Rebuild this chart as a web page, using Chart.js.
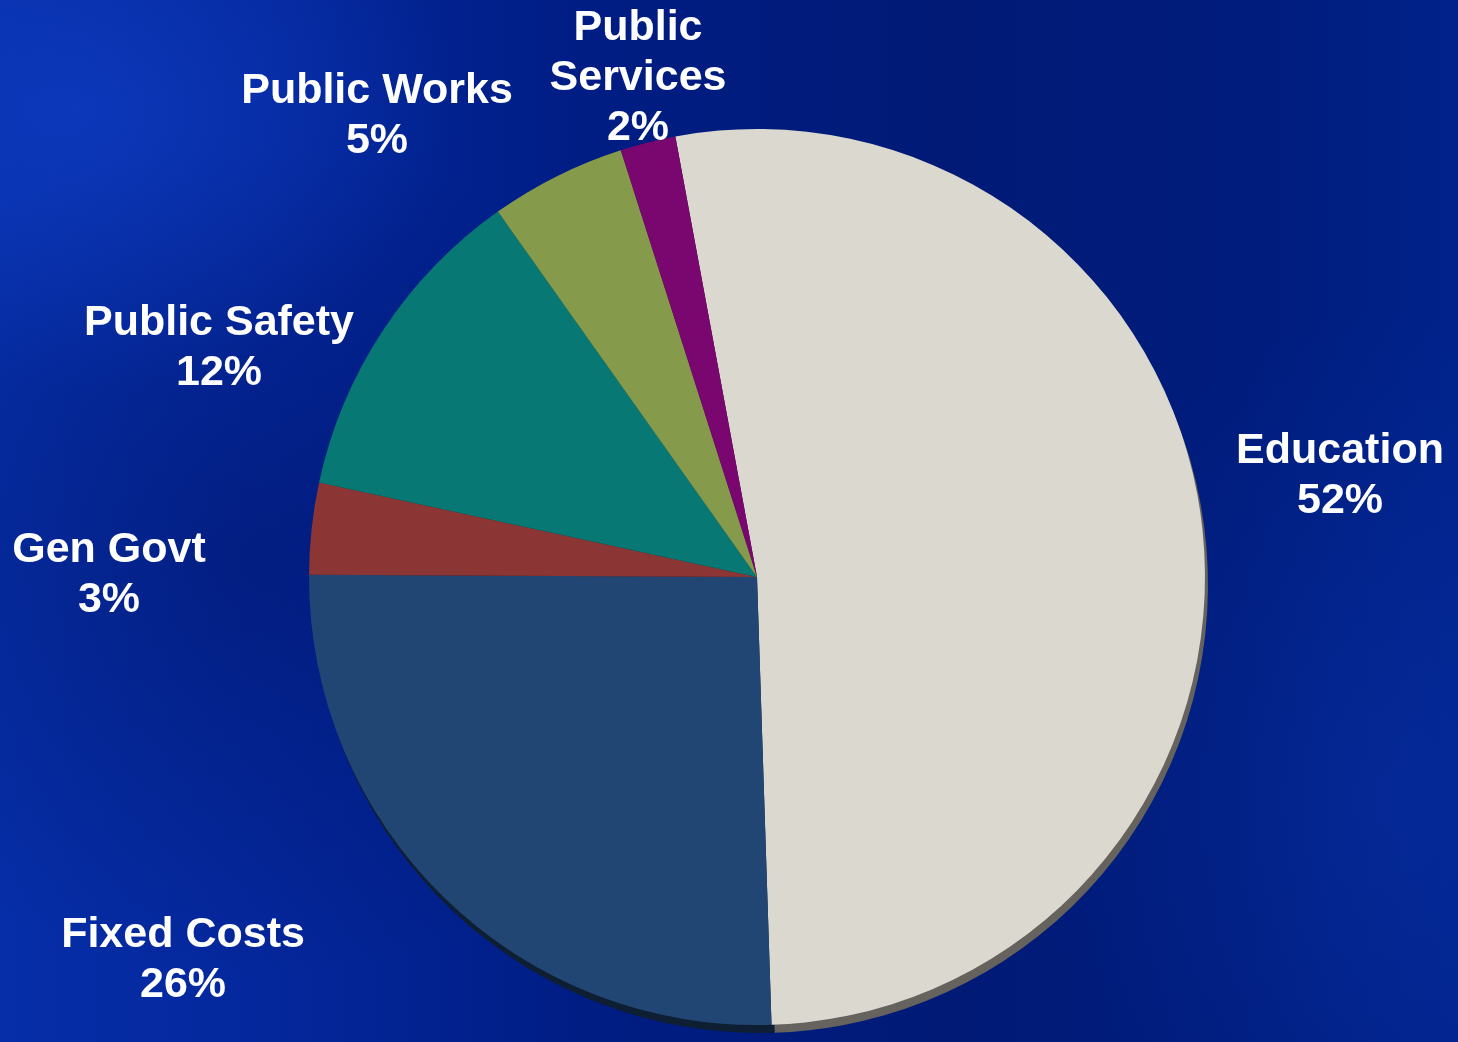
<!DOCTYPE html>
<html>
<head>
<meta charset="utf-8">
<script src="https://cdn.jsdelivr.net/npm/chart.js@4"></script>
<style>
  html, body { margin: 0; padding: 0; }
  body {
    width: 1458px; height: 1042px; overflow: hidden;
    background:
      radial-gradient(ellipse 380px 280px at 80px 110px, rgba(20,70,210,0.45), rgba(20,70,210,0) 100%),
      radial-gradient(ellipse 500px 420px at 260px 560px, rgba(0,16,90,0.4), rgba(0,16,90,0) 100%),
      radial-gradient(ellipse 360px 500px at 1400px 800px, rgba(10,50,170,0.45), rgba(10,50,170,0) 100%),
      linear-gradient(90deg, #062ea8 0%, #04279c 18%, #001d84 40%, #001a76 65%, #001c7c 85%, #00228a 100%);
  }
  #chart { position: absolute; left: 0; top: 0; }
</style>
</head>
<body>
<canvas id="chart" width="1458" height="1042"></canvas>
<script>
// order follows the slices clockwise from Education
categories = ["Education", "Fixed Costs", "Gen Govt", "Public Safety", "Public Works", "Public Services"];
// slice sizes as measured from the wedge angles; labels show them rounded
shares = [52.4, 25.6, 3.3, 11.8, 4.9, 2.0];
labelLines = [["Education"], ["Fixed Costs"], ["Gen Govt"], ["Public Safety"], ["Public Works"], ["Public", "Services"]];

faceColors = ["#dbd8d0", "#224674", "#8b3535", "#077873", "#869a4b", "#7a0770"];
rimColors = ["#66635e", "#0f1f33", "#3e1616", "#033633", "#3c4522", "#370332"];

// where each label block sits (center x, first baseline y)
labelSpots = [
  { x: 1340, y: 463 },
  { x: 183, y: 947 },
  { x: 109, y: 562 },
  { x: 219, y: 335 },
  { x: 377, y: 103 },
  { x: 638, y: 40 }
];

const rimPlugin = {
  id: "rim",
  beforeDatasetsDraw(chart) {
    const ctx = chart.ctx;
    const arcs = chart.getDatasetMeta(0).data;
    ctx.save();
    ctx.translate(3, 8);
    arcs.forEach((arc, i) => {
      const p = arc.getProps(["x", "y", "startAngle", "endAngle", "outerRadius"], true);
      ctx.beginPath();
      ctx.moveTo(p.x, p.y);
      ctx.arc(p.x, p.y, p.outerRadius, p.startAngle, p.endAngle);
      ctx.closePath();
      ctx.fillStyle = rimColors[i];
      ctx.fill();
    });
    ctx.restore();
  }
};

const outsideLabels = {
  id: "outsideLabels",
  afterDatasetsDraw(chart) {
    const ctx = chart.ctx;
    ctx.save();
    ctx.fillStyle = "#ffffff";
    ctx.font = "bold 43px 'Liberation Sans', Arial, sans-serif";
    ctx.textAlign = "center";
    ctx.textBaseline = "alphabetic";
    categories.forEach((c, i) => {
      const lines = labelLines[i].concat([Math.round(shares[i]) + "%"]);
      const spot = labelSpots[i];
      lines.forEach((t, j) => {
        ctx.fillText(t, spot.x, spot.y + j * 50);
      });
    });
    ctx.restore();
  }
};

let config = {
  type: 'pie',
  data: {
    labels: categories,
    datasets: [{
      data: shares,
      backgroundColor: faceColors,
      borderWidth: 0,
      hoverOffset: 0
    }]
  },
  options: {
    responsive: false,
    animation: false,
    rotation: -10.5,
    layout: {
      padding: { left: 306, right: 250, top: 129, bottom: 17 }
    },
    plugins: {
      legend: { display: false },
      tooltip: { enabled: false }
    }
  },
  plugins: [rimPlugin, outsideLabels]
};

chart = new Chart(document.getElementById("chart"), config);
</script>
</body>
</html>
